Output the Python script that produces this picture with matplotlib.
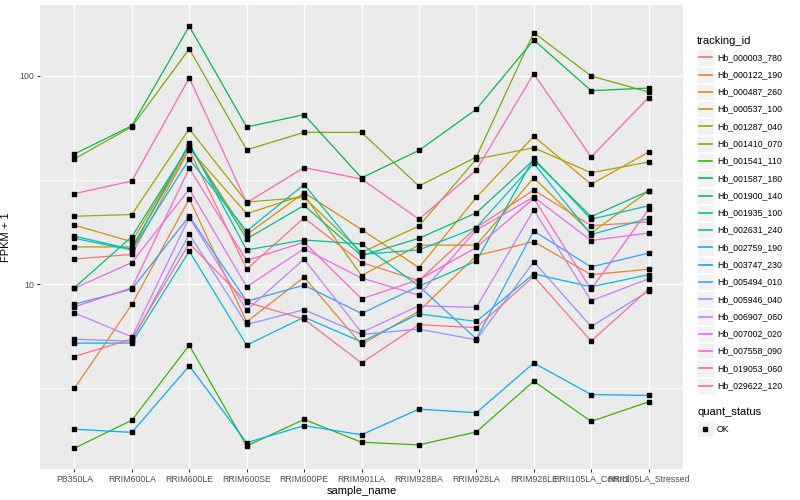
import numpy as np
import matplotlib.pyplot as plt
from matplotlib.patches import Rectangle
from matplotlib.ticker import NullLocator

plt.rcParams['font.family'] = ['Liberation Sans', 'DejaVu Sans']

samples = ["PB350LA", "RRIM600LA", "RRIM600LE", "RRIM600SE", "RRIM600PE", "RRIM901LA",
           "RRIM928BA", "RRIM928LA", "RRIM928LE", "RRII105LA_Control", "RRII105LA_Stressed"]

tracking_ids = ["Hb_000003_780", "Hb_000122_190", "Hb_000487_260", "Hb_000537_100",
                "Hb_001287_040", "Hb_001410_070", "Hb_001541_110", "Hb_001587_180",
                "Hb_001900_140", "Hb_001935_100", "Hb_002631_240", "Hb_002759_190",
                "Hb_003747_230", "Hb_005494_010", "Hb_005946_040", "Hb_006907_060",
                "Hb_007002_020", "Hb_007558_090", "Hb_019053_060", "Hb_029622_120"]

# ggplot hue palette, 20 levels
colours = ["#F8766D", "#EA8331", "#D89000", "#C09B00", "#A3A500", "#7CAE00", "#39B600",
           "#00BB4E", "#00BF7D", "#00C1A3", "#00BFC4", "#00BAE0", "#00B0F6", "#35A2FF",
           "#9590FF", "#C77CFF", "#E76BF3", "#FA62DB", "#FF62BC", "#FF6C91"]

# FPKM + 1, one value per sample
hb_000003_780 = [13.2, 13.9, 44.2, 11.8, 20.8, 12.7, 10.4, 18.7, 28.3, 19.1, 19.9]
hb_000122_190 = [3.16, 7.99, 25.7, 6.59, 10.8, 5.13, 7.42, 13.7, 16.0, 11.1, 11.8]
hb_000487_260 = [19.2, 16.0, 46.2, 17.3, 27.5, 18.3, 12.0, 26.1, 51.3, 30.2, 43.1]
hb_000537_100 = [15.1, 15.1, 44.8, 21.8, 26.8, 11.0, 15.4, 15.4, 32.4, 17.6, 28.0]
hb_001287_040 = [21.2, 21.6, 55.8, 24.8, 26.1, 14.2, 19.0, 39.9, 45.2, 34.3, 38.6]
hb_001410_070 = [40.0, 57.0, 134.9, 44.2, 53.6, 53.6, 29.6, 40.8, 161.5, 100.0, 83.8]
hb_001541_110 = [1.63, 2.22, 5.09, 1.67, 2.24, 1.74, 1.69, 1.95, 3.42, 2.19, 2.72]
hb_001587_180 = [42.2, 57.7, 173.4, 56.9, 65.2, 32.4, 43.9, 69.2, 149.0, 85.0, 87.5]
hb_001900_140 = [9.62, 16.9, 46.2, 16.5, 23.9, 13.7, 16.6, 22.0, 39.5, 21.1, 28.0]
hb_001935_100 = [17.0, 14.7, 47.5, 14.6, 16.3, 15.6, 9.78, 12.9, 40.2, 20.5, 23.8]
hb_002631_240 = [16.6, 14.6, 39.9, 18.0, 30.1, 13.9, 14.6, 18.7, 38.0, 17.3, 20.7]
hb_002759_190 = [5.21, 5.21, 14.4, 5.09, 6.94, 5.28, 7.20, 6.62, 11.2, 9.71, 11.1]
hb_003747_230 = [2.01, 1.94, 4.05, 1.73, 2.09, 1.89, 2.51, 2.41, 4.18, 2.95, 2.92]
hb_005494_010 = [8.01, 9.46, 21.2, 8.28, 9.89, 7.23, 9.78, 5.46, 18.0, 12.1, 14.1]
hb_005946_040 = [5.44, 5.32, 17.4, 6.40, 7.54, 5.73, 6.08, 5.40, 12.8, 6.26, 9.26]
hb_006907_060 = [7.28, 5.58, 20.9, 7.50, 13.2, 5.86, 7.87, 7.73, 22.7, 8.33, 10.6]
hb_007002_020 = [9.55, 12.7, 28.6, 9.71, 14.8, 10.7, 8.85, 18.2, 26.2, 16.2, 17.6]
hb_007558_090 = [7.78, 9.60, 36.0, 13.0, 15.9, 8.50, 10.5, 15.0, 25.8, 9.43, 22.9]
hb_019053_060 = [27.2, 31.3, 97.8, 24.6, 36.3, 32.0, 20.5, 35.3, 102.6, 40.8, 78.7]
hb_029622_120 = [4.49, 5.46, 15.7, 8.19, 6.79, 4.18, 6.39, 6.18, 10.9, 5.33, 9.43]

series = [hb_000003_780, hb_000122_190, hb_000487_260, hb_000537_100, hb_001287_040,
          hb_001410_070, hb_001541_110, hb_001587_180, hb_001900_140, hb_001935_100,
          hb_002631_240, hb_002759_190, hb_003747_230, hb_005494_010, hb_005946_040,
          hb_006907_060, hb_007002_020, hb_007558_090, hb_019053_060, hb_029622_120]

fig = plt.figure(figsize=(8, 5), dpi=100)
ax = fig.add_axes([40 / 800, 1 - 469 / 500, 643 / 800, 464 / 500])
ax.set_facecolor("#EBEBEB")
for s in ax.spines.values():
    s.set_visible(False)

x = np.arange(1, len(samples) + 1)

# grid like ggplot
for yv in [10 ** 0.5, 10 ** 1.5]:
    ax.axhline(yv, color="white", lw=0.5, zorder=0)
for yv in [10, 100]:
    ax.axhline(yv, color="white", lw=1.0, zorder=0)
for xv in x:
    ax.axvline(xv, color="white", lw=1.0, zorder=0)

for vals, col in zip(series, colours):
    ax.plot(x, vals, color=col, lw=0.9, zorder=2)
for vals in series:
    ax.plot(x, vals, ls="none", marker="s", ms=2.6, color="black", zorder=3)

ax.set_yscale("log")
ax.set_xlim(0.4, 11.6)
ax.set_ylim(10 ** 0.112, 10 ** 2.341)
ax.yaxis.set_minor_locator(NullLocator())
ax.set_yticks([10, 100], ["10", "100"])
ax.set_xticks(x, samples)
ax.tick_params(length=2, width=0.8, color="#333333", labelsize=6.3,
               labelcolor="#4D4D4D", pad=2)
ax.set_xlabel("sample_name", fontsize=8, labelpad=2)
ax.set_ylabel("FPKM + 1", fontsize=8, labelpad=6)

# legends drawn in pixel coordinates
lg = fig.add_axes([0, 0, 1, 1])
lg.set_xlim(0, 800)
lg.set_ylim(500, 0)
lg.axis("off")

lg.text(697, 40.5, "tracking_id", fontsize=8, va="center", ha="left")
for i, (name, col) in enumerate(zip(tracking_ids, colours)):
    yc = 57.3 + i * 17.28
    lg.add_patch(Rectangle((697, yc - 8), 16.5, 16.3, facecolor="#F2F2F2", edgecolor="white", lw=0.6))
    lg.plot([698.5, 711.5], [yc, yc], color=col, lw=1.2)
    lg.text(717, yc, name, fontsize=6.3, va="center", ha="left")

lg.text(697, 412.3, "quant_status", fontsize=8, va="center", ha="left")
lg.add_patch(Rectangle((697, 421), 16.5, 16.3, facecolor="#F2F2F2", edgecolor="white", lw=0.6))
lg.plot([705.2], [429.2], marker="s", ms=2.6, color="black", ls="none")
lg.text(717, 429.2, "OK", fontsize=6.3, va="center", ha="left")

fig.savefig("out.png", dpi=100)
